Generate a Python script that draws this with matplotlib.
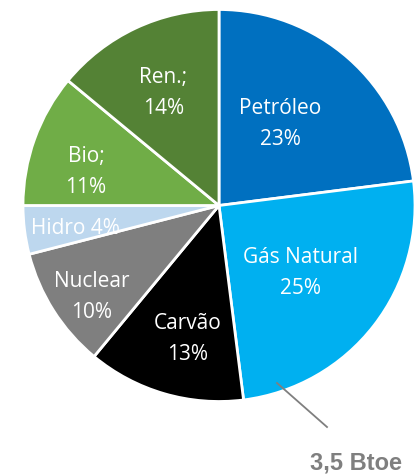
import numpy as np
import matplotlib.pyplot as plt

# slices, clockwise from 12 o'clock
names = ['Petróleo', 'Gás Natural', 'Carvão', 'Nuclear', 'Hidro', 'Bio;', 'Ren.;']
shares = [23, 25, 13, 10, 4, 11, 14]
colors = ['#0070C0', '#00B0F0', '#000000', '#7F7F7F', '#BDD7EE', '#70AD47', '#548235']
total_label = '3,5 Btoe'

# label placement: distance (fraction of radius) and angle nudge (deg)
label_r = [0.52, 0.54, 0.70, 0.80, 0.74, 0.70, 0.64]
label_da = [4.6, -2.0, 3.1, 3.4, 2.1, 5.7, 1.1]

W, H = 416, 475
fig = plt.figure(figsize=(W / 100, H / 100), dpi=100)
ax = fig.add_axes([0, 0, 1, 1])

cx, cy, R = 219, 269.5, 196
wedges, _ = ax.pie(shares, colors=colors, startangle=90, counterclock=False,
                   center=(cx, cy), radius=R, frame=True,
                   wedgeprops=dict(edgecolor='white', linewidth=2))
ax.set_xlim(0, W)
ax.set_ylim(0, H)
ax.axis('off')

for w, name, pct, f, da in zip(wedges, names, shares, label_r, label_da):
    mid = np.deg2rad((w.theta1 + w.theta2) / 2 + da)
    x = cx + f * R * np.cos(mid)
    y = cy + f * R * np.sin(mid)
    if name == 'Hidro':
        txt = f'{name} {pct}%'
    else:
        txt = f'{name}\n{pct}%'
    ax.text(x, y, txt, ha='center', va='center', color='white',
            fontsize=15, family='Open Sans', linespacing=1.62)

# leader line to total
ax.plot([277, 327], [92, 48], color='#7F7F7F', lw=1.3)
ax.text(356, 12, total_label, ha='center', va='center', color='#7F7F7F',
        fontsize=17, fontweight='bold', family='Liberation Sans')

fig.savefig('out.png', dpi=100)
